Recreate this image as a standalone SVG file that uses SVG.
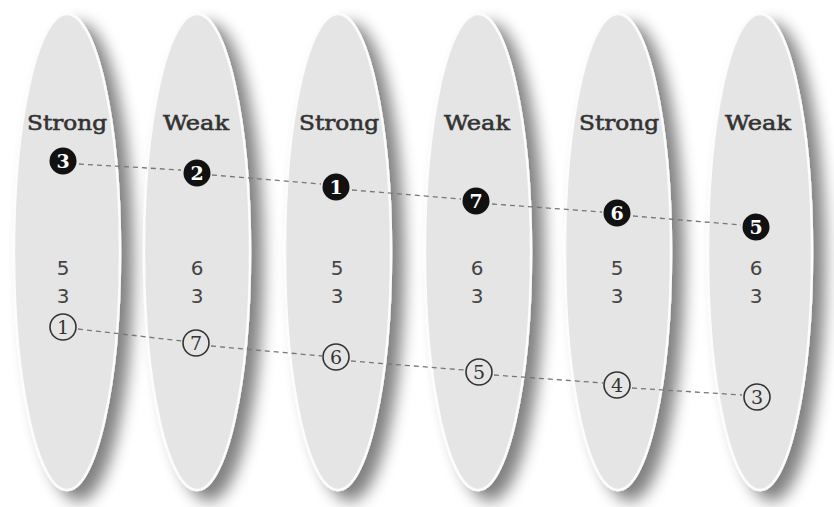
<svg xmlns="http://www.w3.org/2000/svg" width="834" height="507" viewBox="0 0 834 507">
<defs>
<filter id="sh" x="-50%" y="-10%" width="200%" height="130%">
<feGaussianBlur in="SourceAlpha" stdDeviation="8" result="b"/>
<feOffset in="b" dx="12" dy="10" result="o"/>
<feComponentTransfer in="o" result="s"><feFuncA type="linear" slope="0.5"/></feComponentTransfer>
<feMerge><feMergeNode in="s"/><feMergeNode in="SourceGraphic"/></feMerge>
</filter>
<style>
.pod{fill:#e5e5e5;stroke:#fcfcfc;stroke-width:2.5;filter:url(#sh)}
.lbl{font-family:"DejaVu Serif","Liberation Serif",serif;font-size:21px;fill:#333;stroke:#333;stroke-width:0.6;text-anchor:middle}
.num{font-family:"DejaVu Sans","Liberation Sans",sans-serif;font-size:20px;fill:#444;text-anchor:middle}
.bc{fill:#111}
.bt{font-family:"DejaVu Serif","Liberation Serif",serif;font-size:19px;font-weight:bold;fill:#fff;text-anchor:middle}
.oc{fill:none;stroke:#333;stroke-width:1.6}
.ot{font-family:"DejaVu Serif","Liberation Serif",serif;font-size:19px;fill:#333;text-anchor:middle}
.dash{stroke:#777;stroke-width:1.3;stroke-dasharray:5 4;fill:none}
</style>
</defs>
<rect width="834" height="507" fill="#fff"/>

<g id="col1"><ellipse class="pod" cx="67" cy="252" rx="53" ry="238"/><text class="lbl" x="67" y="130" textLength="80" lengthAdjust="spacingAndGlyphs">Strong</text><text class="num" x="63" y="275">5</text><text class="num" x="63" y="303">3</text></g>
<g id="col2"><ellipse class="pod" cx="197" cy="252" rx="53" ry="238"/><text class="lbl" x="196" y="130" textLength="66" lengthAdjust="spacingAndGlyphs">Weak</text><text class="num" x="197" y="275">6</text><text class="num" x="197" y="303">3</text></g>
<g id="col3"><ellipse class="pod" cx="338" cy="252" rx="53" ry="238"/><text class="lbl" x="339" y="130" textLength="80" lengthAdjust="spacingAndGlyphs">Strong</text><text class="num" x="337" y="275">5</text><text class="num" x="337" y="303">3</text></g>
<g id="col4"><ellipse class="pod" cx="478" cy="252" rx="53" ry="238"/><text class="lbl" x="477" y="130" textLength="66" lengthAdjust="spacingAndGlyphs">Weak</text><text class="num" x="477" y="275">6</text><text class="num" x="477" y="303">3</text></g>
<g id="col5"><ellipse class="pod" cx="618" cy="252" rx="53" ry="238"/><text class="lbl" x="619" y="130" textLength="80" lengthAdjust="spacingAndGlyphs">Strong</text><text class="num" x="617" y="275">5</text><text class="num" x="617" y="303">3</text></g>
<g id="col6"><ellipse class="pod" cx="760" cy="252" rx="52" ry="238"/><text class="lbl" x="758" y="130" textLength="66" lengthAdjust="spacingAndGlyphs">Weak</text><text class="num" x="756" y="275">6</text><text class="num" x="756" y="303">3</text></g>

<g id="connectors">
<line class="dash" x1="79" y1="164" x2="181" y2="170"/>
<line class="dash" x1="212" y1="175" x2="321" y2="184"/>
<line class="dash" x1="352" y1="190" x2="461" y2="199"/>
<line class="dash" x1="492" y1="204" x2="602" y2="212"/>
<line class="dash" x1="633" y1="216" x2="741" y2="225"/>
<line class="dash" x1="78" y1="329" x2="182" y2="341"/>
<line class="dash" x1="211" y1="346" x2="322" y2="356"/>
<line class="dash" x1="351" y1="361" x2="464" y2="370"/>
<line class="dash" x1="494" y1="375" x2="603" y2="383"/>
<line class="dash" x1="632" y1="388" x2="742" y2="395"/>
</g>

<g id="b3"><circle class="bc" cx="63" cy="161" r="13.5"/><text class="bt" x="63" y="168">3</text></g>
<g id="b2"><circle class="bc" cx="197" cy="173" r="13.5"/><text class="bt" x="197" y="180">2</text></g>
<g id="b1"><circle class="bc" cx="336" cy="187" r="13.5"/><text class="bt" x="336" y="194">1</text></g>
<g id="b7"><circle class="bc" cx="476" cy="201" r="13.5"/><text class="bt" x="476" y="208">7</text></g>
<g id="b6"><circle class="bc" cx="617" cy="213" r="13.5"/><text class="bt" x="617" y="220">6</text></g>
<g id="b5"><circle class="bc" cx="756" cy="227" r="13.5"/><text class="bt" x="756" y="234">5</text></g>

<g id="o1"><circle class="oc" cx="63" cy="327" r="13"/><text class="ot" x="63" y="334">1</text></g>
<g id="o7"><circle class="oc" cx="196" cy="343" r="13"/><text class="ot" x="196" y="350">7</text></g>
<g id="o6"><circle class="oc" cx="336" cy="357" r="13"/><text class="ot" x="336" y="364">6</text></g>
<g id="o5"><circle class="oc" cx="479" cy="372" r="13"/><text class="ot" x="479" y="379">5</text></g>
<g id="o4"><circle class="oc" cx="617" cy="385" r="13"/><text class="ot" x="617" y="392">4</text></g>
<g id="o3"><circle class="oc" cx="757" cy="397" r="13"/><text class="ot" x="757" y="404">3</text></g>
</svg>
